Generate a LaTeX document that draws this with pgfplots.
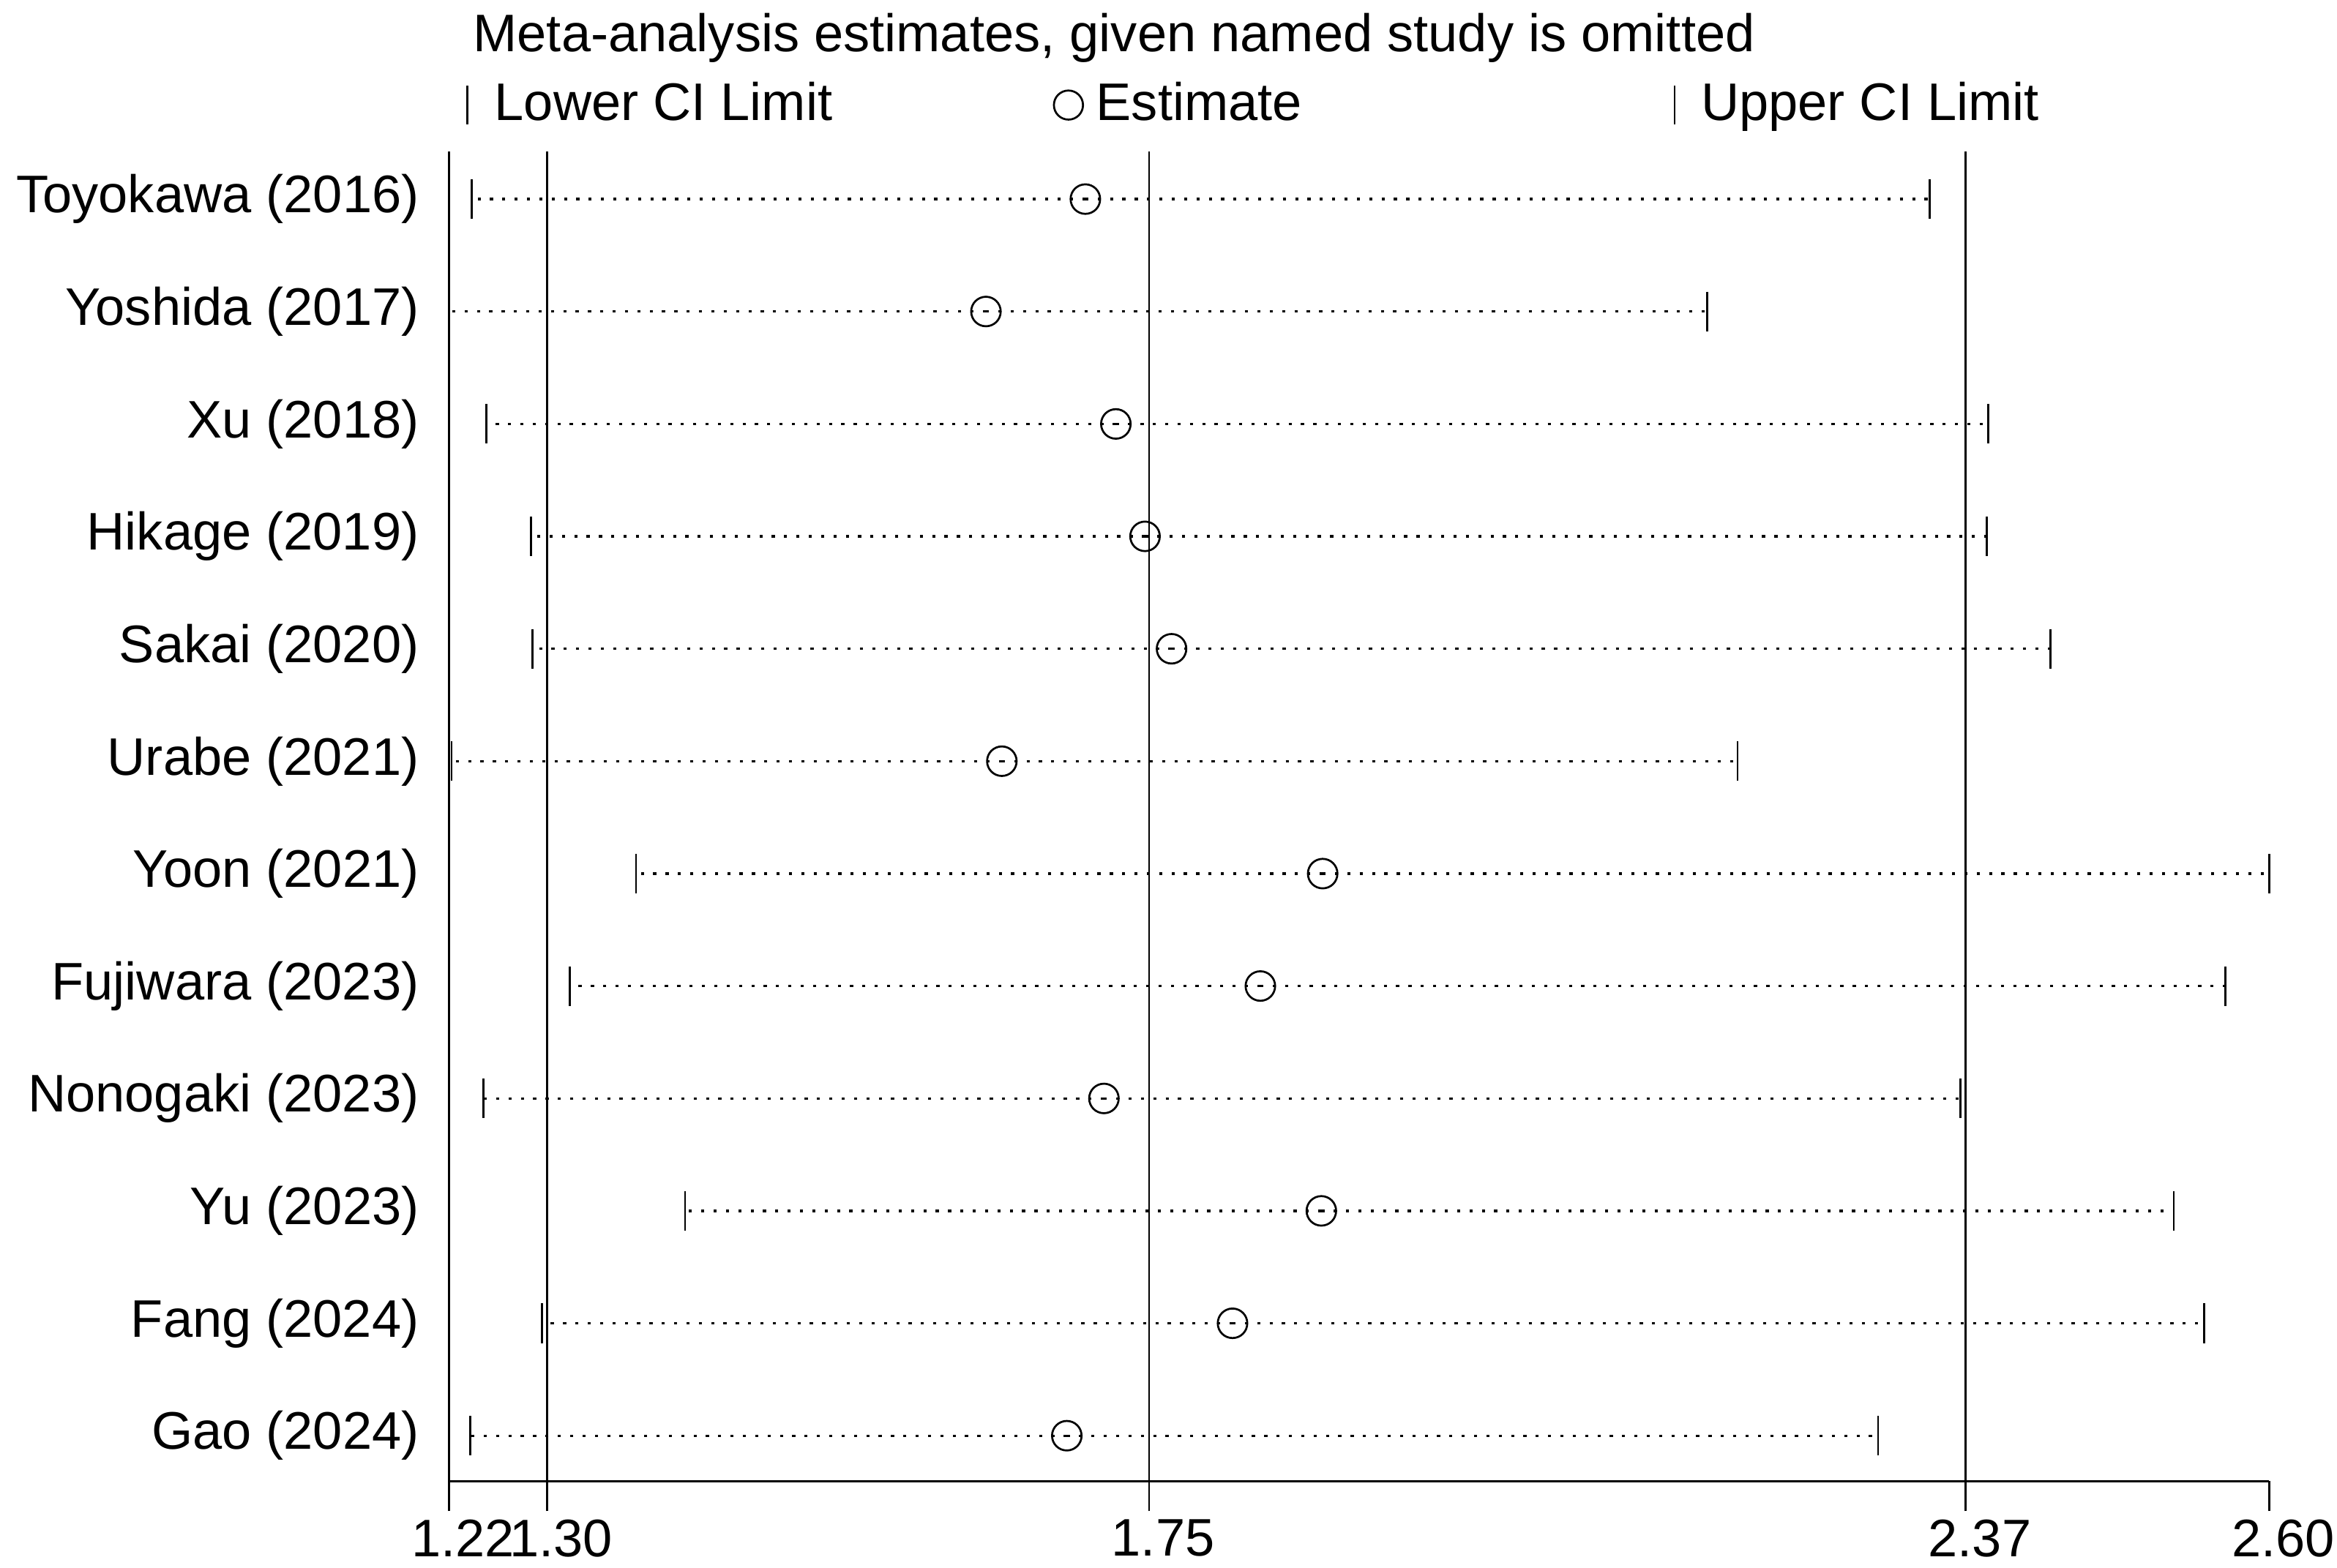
\documentclass[12pt,border={3.7pt 2.4pt 0.5pt 3pt}]{standalone}
\usepackage{fontspec}
\setmainfont{Liberation Sans}
\usepackage{pgfplots}
\usepackage{pgfplotstable}
\pgfplotsset{compat=1.18}

% row lo est hi : estimate with named study omitted
\pgfplotstableread{
row lo est hi
1 1.243 1.706 2.343
2 1.226 1.631 2.175
3 1.254 1.729 2.387
4 1.288 1.751 2.386
5 1.289 1.771 2.434
6 1.228 1.643 2.198
7 1.367 1.885 2.599
8 1.317 1.838 2.566
9 1.252 1.720 2.366
10 1.404 1.884 2.527
11 1.296 1.817 2.550
12 1.242 1.692 2.304
}\omitted

\begin{document}
\begin{tikzpicture}
\begin{axis}[
  scale only axis,
  width=413pt, height=301.8pt,
  xmin=1.226, xmax=2.599,
  ymin=0.577, ymax=12.405,
  y dir=reverse,
  axis lines*=left,
  axis line style={line width=0.45pt},
  clip=false,
  xtick={1.226,1.30,1.754,2.37,2.599},
  xticklabels={1.22,1.30,1.75,2.37,2.60},
  xtick align=outside,
  major tick length=6.8pt,
  xtick style={black, line width=0.45pt},
  xticklabel style={inner sep=0pt, yshift=-1.7pt, xshift=3.2pt},
  ytick={1,...,12},
  yticklabels={Toyokawa (2016),Yoshida (2017),Xu (2018),Hikage (2019),Sakai (2020),Urabe (2021),Yoon (2021),Fujiwara (2023),Nonogaki (2023),Yu (2023),Fang (2024),Gao (2024)},
  ytick style={draw=none},
  yticklabel style={inner sep=0pt, xshift=-6.6pt},
  /pgf/number format/assume math mode=true,
  title={Meta-analysis estimates, given named study is omitted},
  title style={at={(0,1)}, anchor=base west, xshift=5.3pt, yshift=16.7pt, inner sep=0pt},
  legend columns=3,
  legend style={draw=none, fill=none, at={(0,1)}, anchor=south west,
    xshift=3.7pt, yshift=5.1pt, inner sep=0pt,
    nodes={inner sep=0pt}},
]
% reference lines: overall CI and estimate
\addplot[black, line width=0.45pt, forget plot] coordinates {(1.30,0.577) (1.30,12.405)};
\addplot[black, line width=0.45pt, forget plot] coordinates {(1.754,0.577) (1.754,12.405)};
\addplot[black, line width=0.45pt, forget plot] coordinates {(2.37,0.577) (2.37,12.405)};

% dotted CI segments and estimates
\addplot[only marks, mark=o, mark size=3.35pt, mark options={black, line width=0.45pt}, forget plot,
  error bars/.cd, x dir=both, x explicit, error mark=none,
  error bar style={black, line width=0.55pt, dash pattern=on 0.7pt off 2.1pt}]
  table[x=est, y=row, x error plus expr=\thisrow{hi}-\thisrow{est}, x error minus expr=\thisrow{est}-\thisrow{lo}] {\omitted};
% CI limits
\addplot[only marks, mark=|, mark size=4.5pt, mark options={black, line width=0.45pt}, forget plot]
  table[x=lo, y=row] {\omitted};
\addplot[only marks, mark=|, mark size=4.5pt, mark options={black, line width=0.45pt}, forget plot]
  table[x=hi, y=row] {\omitted};

\addlegendimage{legend image code/.code={\draw[line width=0.45pt] (0pt,-4.4pt) -- (0pt,4.4pt); \path[draw=none] (0pt,0pt) -- (6.2pt,0pt);}}
\addlegendentry{\makebox[126.7pt][l]{Lower CI Limit}}
\addlegendimage{legend image code/.code={\draw[line width=0.45pt] (3.3pt,0pt) circle (3.3pt); \path[draw=none] (0pt,0pt) -- (9.6pt,0pt);}}
\addlegendentry{\makebox[131pt][l]{Estimate}}
\addlegendimage{legend image code/.code={\draw[line width=0.45pt] (0pt,-4.4pt) -- (0pt,4.4pt); \path[draw=none] (0pt,0pt) -- (6pt,0pt);}}
\addlegendentry{Upper CI Limit}
\end{axis}
\end{tikzpicture}
\end{document}
